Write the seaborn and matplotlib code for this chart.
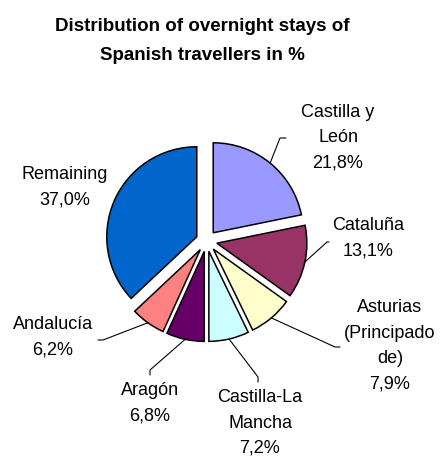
import numpy as np
import matplotlib
matplotlib.use("Agg")
import matplotlib.pyplot as plt
import seaborn as sns

# Data
regions = ["Castilla y\nLeón", "Cataluña", "Asturias\n(Principado\nde)",
           "Castilla-La\nMancha", "Aragón", "Andalucía", "Remaining"]
shares = [21.8, 13.1, 7.9, 7.2, 6.8, 6.2, 37.0]
colors = ["#9999FF", "#993366", "#FFFFCC", "#CCFFFF", "#660066", "#FF8080", "#0066CC"]

title = "Distribution of overnight stays of\nSpanish travellers in %"

# Layout (pixel coords, y from top): text centre, leader elbow, leader end
W, H = 441, 458
label_pos = [(338, 138), (368, 238), (390, 346), (260, 423), (150, 403), (53, 337), (65, 187)]
leader = [((280, 138), (286, 138)),
          ((327, 242), (329, 242)),
          ((335, 347), (340, 347)),
          ((258, 377), (258, 382)),
          ((150, 370), (150, 375)),
          ((103, 340), (98, 340)),
          None]

sns.set_theme(style="white")
plt.rcParams["font.family"] = ["Liberation Sans", "DejaVu Sans"]

fig = plt.figure(figsize=(W / 100, H / 100), dpi=100)
ax = fig.add_axes([0, 0, 1, 1])

radius = 90
# explode is an absolute offset in data units (pixels here)
wedges, _ = ax.pie(shares, colors=colors, startangle=90, counterclock=False,
                   center=(206.5, H - 241), radius=radius,
                   explode=[10.6] * len(shares),
                   wedgeprops=dict(edgecolor="black", linewidth=1.1))

ax.set_xlim(0, W)
ax.set_ylim(0, H)
ax.set_aspect("equal")
ax.axis("off")

for w, name, val, (tx, ty), ld in zip(wedges, regions, shares, label_pos, leader):
    ax.text(tx, H - ty, f"{name}\n{val:.1f}%".replace(".", ","), ha="center", va="center",
            fontsize=13, color="black", linespacing=1.65)
    if ld is not None:
        mid = np.deg2rad((w.theta1 + w.theta2) / 2)
        cx, cy = w.center
        sx, sy = cx + radius * np.cos(mid), cy + radius * np.sin(mid)
        (ex, ey), (fx, fy) = ld
        ax.plot([sx, ex, fx], [sy, H - ey, H - fy], color="black", lw=0.8)

fig.text(202 / W, 1 - 41 / H, title, ha="center", va="center", color="black",
         fontsize=13.5, fontweight="bold", linespacing=1.85)

fig.savefig("out.png", dpi=100, facecolor="white")
